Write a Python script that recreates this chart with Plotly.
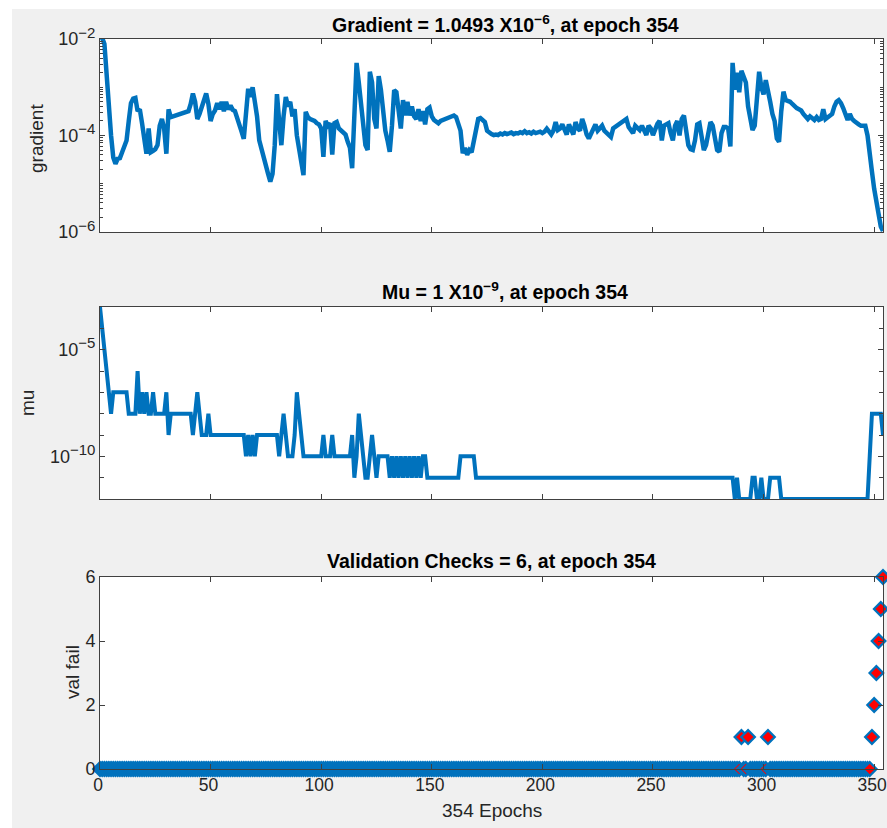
import plotly.graph_objects as go
from plotly.subplots import make_subplots

epochs = list(range(355))

gradient = [
    1.1e-2, 1.05e-2, 7.9e-3, 1.6e-3, 4.0e-4, 1.0e-4, 3.5e-5, 2.6e-5, 3.3e-5, 3.4e-5,
    4.5e-5, 6.0e-5, 7.9e-5, 2.0e-4, 4.7e-4, 5.8e-4, 6.0e-4, 3.2e-4, 3.5e-4, 1.8e-4,
    7.9e-5, 4.2e-5, 1.4e-4, 4.5e-5, 4.8e-5, 5.2e-5, 6.3e-5, 1.6e-4, 2.2e-4, 1.4e-4,
    4.2e-5, 3.5e-4, 2.4e-4, 2.5e-4, 2.6e-4, 2.7e-4, 2.8e-4, 2.9e-4, 3.0e-4, 3.2e-4,
    3.2e-4, 4.5e-4, 7.4e-4, 5.0e-4, 2.2e-4, 2.8e-4, 4.0e-4, 5.8e-4, 7.4e-4, 4.5e-4,
    2.0e-4, 2.8e-4, 3.3e-4, 4.7e-4, 3.5e-4, 5.0e-4, 3.2e-4, 5.0e-4, 3.5e-4, 4.2e-4,
    3.4e-4, 3.2e-4, 2.4e-4, 1.6e-4, 1.2e-4, 8.5e-5, 4.2e-4, 9.3e-4, 6.3e-4, 1.0e-3,
    5.0e-4, 2.5e-4, 7.9e-5, 5.0e-5, 3.2e-5, 2.0e-5, 1.6e-5, 1.1e-5, 1.6e-5, 6.3e-5,
    7.2e-4, 2.0e-4, 6.3e-5, 2.5e-4, 6.3e-4, 4.0e-4, 5.0e-4, 2.5e-4, 3.5e-4, 1.0e-4,
    5.4e-5, 3.2e-5, 1.5e-5, 3.1e-4, 2.4e-4, 2.2e-4, 2.1e-4, 2.0e-4, 1.8e-4, 1.7e-4,
    1.4e-4, 3.6e-5, 2.0e-4, 1.6e-4, 1.8e-4, 4.0e-5, 1.8e-4, 1.9e-4, 1.4e-4, 1.26e-4,
    1.2e-4, 1.05e-4, 7.4e-5, 5.6e-5, 2.1e-5, 3.2e-4, 3.2e-3, 1.26e-3, 5.0e-4, 1.6e-4,
    6.3e-5, 5.0e-5, 2.1e-3, 1.26e-3, 2.2e-4, 1.4e-4, 1.7e-3, 8.9e-4, 3.2e-4, 1.26e-4,
    7.9e-5, 4.6e-5, 1.6e-4, 8.7e-4, 7.9e-4, 3.2e-4, 1.4e-4, 5.4e-4, 2.6e-4, 5.0e-4,
    2.6e-4, 4.0e-4, 2.5e-4, 2.2e-4, 3.5e-4, 2.0e-4, 3.2e-4, 1.7e-4, 3.5e-4, 3.8e-4,
    2.5e-4, 2.1e-4, 1.9e-4, 1.8e-4, 2.0e-4, 2.1e-4, 2.2e-4, 2.3e-4, 2.4e-4, 2.5e-4,
    2.6e-4, 2.4e-4, 1.8e-4, 1.26e-4, 4.3e-5, 5.5e-5, 4.0e-5, 5.0e-5, 4.5e-5, 7.9e-5,
    1.4e-4, 2.2e-4, 2.3e-4, 2.0e-4, 1.9e-4, 1.26e-4, 1.12e-4, 1.07e-4, 1.02e-4, 1.05e-4,
    1.02e-4, 1.1e-4, 1.05e-4, 1.12e-4, 1.07e-4, 1.1e-4, 1.15e-4, 1.07e-4, 1.12e-4, 1.1e-4,
    1.17e-4, 1.12e-4, 1.23e-4, 1.12e-4, 1.17e-4, 1.1e-4, 1.2e-4, 1.12e-4, 1.15e-4, 1.2e-4,
    1.12e-4, 1.2e-4, 1.38e-4, 1.17e-4, 1.05e-4, 1.26e-4, 1.9e-4, 1.3e-4, 1.4e-4, 1.7e-4,
    1.26e-4, 1.05e-4, 1.7e-4, 1.4e-4, 1.05e-4, 1.9e-4, 1.4e-4, 1.26e-4, 2.2e-4, 1.6e-4,
    1.05e-4, 8.7e-5, 1.12e-4, 1.5e-4, 1.7e-4, 1.26e-4, 1.4e-4, 1.6e-4, 1.26e-4, 1.12e-4,
    1.0e-4, 9.3e-5, 1.4e-4, 1.5e-4, 1.7e-4, 1.8e-4, 1.9e-4, 2.0e-4, 2.2e-4, 1.5e-4,
    1.26e-4, 1.12e-4, 1.6e-4, 1.4e-4, 1.3e-4, 1.6e-4, 1.26e-4, 1.02e-4, 1.6e-4, 1.4e-4,
    1.02e-4, 1.45e-4, 1.74e-4, 2.0e-4, 7.9e-5, 1.6e-4, 1.7e-4, 1.8e-4, 1.12e-4, 7.9e-5,
    1.6e-4, 2.0e-4, 1.0e-4, 2.2e-4, 2.6e-4, 1.12e-4, 6.3e-5, 5.2e-5, 5.0e-5, 7.9e-5,
    1.7e-4, 1.8e-4, 1.0e-4, 5.0e-5, 6.3e-5, 1.26e-4, 1.9e-4, 1.6e-4, 8.9e-5, 5.0e-5,
    4.6e-5, 1.12e-4, 1.5e-4, 1.5e-4, 1.4e-4, 5.9e-5, 3.2e-3, 8.9e-4, 2.0e-3, 7.9e-4,
    2.2e-3, 1.6e-3, 1.26e-3, 4.0e-4, 2.0e-4, 1.3e-4, 1.6e-4, 5.0e-4, 2.1e-3, 1.0e-3,
    7.1e-4, 1.4e-3, 8.9e-4, 5.0e-4, 2.8e-4, 2.0e-4, 8.7e-5, 7.4e-5, 3.2e-4, 8.1e-4,
    5.4e-4, 5.2e-4, 5.0e-4, 4.5e-4, 4.0e-4, 3.7e-4, 3.5e-4, 3.3e-4, 2.8e-4, 2.5e-4,
    2.2e-4, 2.5e-4, 2.2e-4, 2.1e-4, 2.4e-4, 2.1e-4, 2.2e-4, 3.5e-4, 2.2e-4, 2.4e-4,
    2.5e-4, 2.8e-4, 4.0e-4, 5.0e-4, 5.4e-4, 4.7e-4, 3.7e-4, 2.8e-4, 2.1e-4, 2.8e-4,
    2.2e-4, 2.0e-4, 1.8e-4, 1.7e-4, 1.6e-4, 1.6e-4, 1.6e-4, 1.0e-4, 3.5e-5, 1.8e-5,
    7.9e-6, 4.0e-6, 2.2e-6, 1.3e-6, 1.0493e-6,
]

mu = [
    1e-3, 1e-4, 1e-5, 1e-6, 1e-7, 1e-8, 1e-7, 1e-7, 1e-7, 1e-7,            # 0
    1e-7, 1e-7, 1e-7, 1e-8, 1e-8, 1e-8, 1e-8, 1e-6, 1e-8, 1e-7,            # 10
    1e-8, 1e-7, 1e-8, 1e-8, 1e-7, 1e-8, 1e-8, 1e-8, 1e-8, 1e-8,            # 20
    1e-7, 1e-9, 1e-8, 1e-8, 1e-8, 1e-8, 1e-8, 1e-8, 1e-8, 1e-8,            # 30
    1e-8, 1e-8, 1e-9, 1e-8, 1e-7, 1e-8, 1e-9, 1e-9, 1e-9, 1e-8,            # 40
    1e-9, 1e-9, 1e-9, 1e-9, 1e-9, 1e-9, 1e-9, 1e-9, 1e-9, 1e-9,            # 50
    1e-9, 1e-9, 1e-9, 1e-9, 1e-9, 1e-9, 1e-10, 1e-9, 1e-10, 1e-9,          # 60
    1e-10, 1e-9, 1e-9, 1e-9, 1e-9, 1e-9, 1e-9, 1e-9, 1e-9, 1e-9,           # 70
    1e-9, 1e-10, 1e-9, 1e-8, 1e-9, 1e-10, 1e-10, 1e-10, 1e-9, 1e-7,        # 80
    1e-8, 1e-9, 1e-10, 1e-10, 1e-10, 1e-10, 1e-10, 1e-10, 1e-10, 1e-10,    # 90
    1e-10, 1e-9, 1e-10, 1e-10, 1e-10, 1e-9, 1e-10, 1e-10, 1e-10, 1e-10,    # 100
    1e-10, 1e-10, 1e-10, 1e-10, 1e-9, 1e-11, 1e-10, 1e-8, 1e-9, 1e-10,     # 110
    1e-11, 1e-11, 1e-10, 1e-9, 1e-10, 1e-11, 1e-10, 1e-10, 1e-10, 1e-10,   # 120
    1e-10, 1e-11, 1e-10, 1e-11, 1e-10, 1e-11, 1e-10, 1e-11, 1e-10, 1e-11,  # 130
    1e-10, 1e-11, 1e-10, 1e-11, 1e-10, 1e-11, 1e-10, 1e-10, 1e-11, 1e-11,  # 140
    1e-11, 1e-11, 1e-11, 1e-11, 1e-11, 1e-11, 1e-11, 1e-11, 1e-11, 1e-11,  # 150
    1e-11, 1e-11, 1e-11, 1e-10, 1e-10, 1e-10, 1e-10, 1e-10, 1e-10, 1e-10,  # 160
    1e-11, 1e-11, 1e-11, 1e-11, 1e-11, 1e-11, 1e-11, 1e-11, 1e-11, 1e-11,  # 170
    1e-11, 1e-11, 1e-11, 1e-11, 1e-11, 1e-11, 1e-11, 1e-11, 1e-11, 1e-11,  # 180
    1e-11, 1e-11, 1e-11, 1e-11, 1e-11, 1e-11, 1e-11, 1e-11, 1e-11, 1e-11,  # 190
    1e-11, 1e-11, 1e-11, 1e-11, 1e-11, 1e-11, 1e-11, 1e-11, 1e-11, 1e-11,  # 200
    1e-11, 1e-11, 1e-11, 1e-11, 1e-11, 1e-11, 1e-11, 1e-11, 1e-11, 1e-11,  # 210
    1e-11, 1e-11, 1e-11, 1e-11, 1e-11, 1e-11, 1e-11, 1e-11, 1e-11, 1e-11,  # 220
    1e-11, 1e-11, 1e-11, 1e-11, 1e-11, 1e-11, 1e-11, 1e-11, 1e-11, 1e-11,  # 230
    1e-11, 1e-11, 1e-11, 1e-11, 1e-11, 1e-11, 1e-11, 1e-11, 1e-11, 1e-11,  # 240
    1e-11, 1e-11, 1e-11, 1e-11, 1e-11, 1e-11, 1e-11, 1e-11, 1e-11, 1e-11,  # 250
    1e-11, 1e-11, 1e-11, 1e-11, 1e-11, 1e-11, 1e-11, 1e-11, 1e-11, 1e-11,  # 260
    1e-11, 1e-11, 1e-11, 1e-11, 1e-11, 1e-11, 1e-11, 1e-11, 1e-11, 1e-11,  # 270
    1e-11, 1e-11, 1e-11, 1e-11, 1e-11, 1e-11, 1e-11, 1e-12, 1e-11, 1e-12,  # 280
    1e-12, 1e-12, 1e-12, 1e-12, 1e-12, 1e-11, 1e-11, 1e-12, 1e-12, 1e-11,  # 290
    1e-12, 1e-12, 1e-12, 1e-11, 1e-11, 1e-11, 1e-11, 1e-11, 1e-12, 1e-12,  # 300
    1e-12, 1e-12, 1e-12, 1e-12, 1e-12, 1e-12, 1e-12, 1e-12, 1e-12, 1e-12,  # 310
    1e-12, 1e-12, 1e-12, 1e-12, 1e-12, 1e-12, 1e-12, 1e-12, 1e-12, 1e-12,  # 320
    1e-12, 1e-12, 1e-12, 1e-12, 1e-12, 1e-12, 1e-12, 1e-12, 1e-12, 1e-12,  # 330
    1e-12, 1e-12, 1e-12, 1e-12, 1e-12, 1e-12, 1e-12, 1e-12, 1e-10, 1e-8,   # 340
    1e-8, 1e-8, 1e-8, 1e-8, 1e-9,                                          # 350
]

val_fail = [
    0, 0, 0, 0, 0, 0, 0, 0, 0, 0, 0, 0, 0, 0, 0, 0, 0, 0, 0, 0,
    0, 0, 0, 0, 0, 0, 0, 0, 0, 0, 0, 0, 0, 0, 0, 0, 0, 0, 0, 0,
    0, 0, 0, 0, 0, 0, 0, 0, 0, 0, 0, 0, 0, 0, 0, 0, 0, 0, 0, 0,
    0, 0, 0, 0, 0, 0, 0, 0, 0, 0, 0, 0, 0, 0, 0, 0, 0, 0, 0, 0,
    0, 0, 0, 0, 0, 0, 0, 0, 0, 0, 0, 0, 0, 0, 0, 0, 0, 0, 0, 0,
    0, 0, 0, 0, 0, 0, 0, 0, 0, 0, 0, 0, 0, 0, 0, 0, 0, 0, 0, 0,
    0, 0, 0, 0, 0, 0, 0, 0, 0, 0, 0, 0, 0, 0, 0, 0, 0, 0, 0, 0,
    0, 0, 0, 0, 0, 0, 0, 0, 0, 0, 0, 0, 0, 0, 0, 0, 0, 0, 0, 0,
    0, 0, 0, 0, 0, 0, 0, 0, 0, 0, 0, 0, 0, 0, 0, 0, 0, 0, 0, 0,
    0, 0, 0, 0, 0, 0, 0, 0, 0, 0, 0, 0, 0, 0, 0, 0, 0, 0, 0, 0,
    0, 0, 0, 0, 0, 0, 0, 0, 0, 0, 0, 0, 0, 0, 0, 0, 0, 0, 0, 0,
    0, 0, 0, 0, 0, 0, 0, 0, 0, 0, 0, 0, 0, 0, 0, 0, 0, 0, 0, 0,
    0, 0, 0, 0, 0, 0, 0, 0, 0, 0, 0, 0, 0, 0, 0, 0, 0, 0, 0, 0,
    0, 0, 0, 0, 0, 0, 0, 0, 0, 0, 0, 0, 0, 0, 0, 0, 0, 0, 0, 0,
    0, 0, 0, 0, 0, 0, 0, 0, 0, 0, 1, 0, 0, 1, 0, 0, 0, 0, 0, 0,
    0, 0, 1, 0, 0, 0, 0, 0, 0, 0, 0, 0, 0, 0, 0, 0, 0, 0, 0, 0,
    0, 0, 0, 0, 0, 0, 0, 0, 0, 0, 0, 0, 0, 0, 0, 0, 0, 0, 0, 0,
    0, 0, 0, 0, 0, 0, 0, 0, 0, 1, 2, 3, 4, 5, 6,
]

assert len(gradient) == len(epochs) == len(mu) == len(val_fail), (
    len(gradient), len(mu), len(val_fail))

x_ticks = [0, 50, 100, 150, 200, 250, 300, 350]

W, H = 887, 828
BLUE = "#0072BD"
AX = "#404040"
TXT = "#262626"
FONT = "Liberation Sans, Arial, Helvetica, sans-serif"

def px_x(x):
    return x / W

def px_y(y):
    return 1 - y / H

def pow_label(exp):
    return f"10<sup><span style='font-size:15px'>−{exp}</span></sup>"

fig = make_subplots(rows=3, cols=1)

fig.add_trace(go.Scatter(x=epochs, y=gradient, mode="lines",
                         line=dict(color=BLUE, width=4.5), showlegend=False),
              row=1, col=1)
fig.add_trace(go.Scatter(x=epochs, y=mu, mode="lines",
                         line=dict(color=BLUE, width=4), showlegend=False),
              row=2, col=1)
fig.add_trace(go.Scatter(x=epochs, y=val_fail, mode="markers", cliponaxis=False,
                         marker=dict(symbol="diamond", size=10.5, color="#FF0000",
                                     line=dict(color=BLUE, width=2.2)),
                         showlegend=False),
              row=3, col=1)

xdom = [px_x(100), px_x(883)]
ydoms = [[px_y(232), px_y(39)], [px_y(499), px_y(307)], [px_y(769), px_y(577)]]

tick_font = dict(family=FONT, size=18, color=TXT)
x_tick_font = dict(family=FONT, size=17.5, color=TXT)
common_x = dict(range=[0, 354], showline=True, linecolor=AX, linewidth=1,
                mirror="ticks", ticks="inside", ticklen=5, tickcolor=AX,
                tickvals=x_ticks, showgrid=False, zeroline=False, domain=xdom,
                tickfont=x_tick_font, ticklabeloverflow="allow",
                ticklabelshift=-2, automargin=False)
for i in range(3):
    key = "xaxis" if i == 0 else f"xaxis{i+1}"
    fig.layout[key].update(common_x)
    fig.layout[key].update(showticklabels=(i == 2))
    ykey = "yaxis" if i == 0 else f"yaxis{i+1}"
    fig.layout[ykey].update(domain=ydoms[i], showline=True, linecolor=AX,
                            linewidth=1, mirror="ticks", ticks="inside",
                            ticklen=5, tickcolor=AX, showgrid=False,
                            zeroline=False, tickfont=tick_font,
                            ticklabeloverflow="allow", automargin=False)

grad_minor = [k * 10.0 ** p for p in range(-6, -2) for k in range(2, 10)] + [1e-5, 1e-3]
fig.layout.yaxis.update(
    type="log", range=[-6, -2],
    tickvals=[1e-6, 1e-4, 1e-2],
    ticktext=[pow_label(6), pow_label(4), pow_label(2)],
    minor=dict(ticks="inside", ticklen=3, tickcolor=AX, tickvals=grad_minor,
               showgrid=False),
)
fig.layout.yaxis2.update(
    type="log", range=[-12, -3],
    tickvals=[1e-10, 1e-5],
    ticktext=[pow_label(10), pow_label(5)],
    minor=dict(ticks="inside", ticklen=4, tickcolor=AX,
               tickvals=[10.0 ** p for p in range(-12, -2)], showgrid=False),
)
fig.layout.yaxis3.update(range=[0, 6], tickvals=[0, 2, 4, 6])

title_font = dict(family=FONT, size=19.5, color="#000000")
label_font = dict(family=FONT, size=19, color=TXT)
annotations = [
    dict(text="<b>Gradient = 1.0493 X10<sup>−6</sup>, at epoch 354</b>",
         x=px_x(505), y=px_y(24), font=title_font),
    dict(text="<b>Mu = 1 X10<sup>−9</sup>, at epoch 354</b>",
         x=px_x(505), y=px_y(291), font=title_font),
    dict(text="<b>Validation Checks = 6, at epoch 354</b>",
         x=px_x(491), y=px_y(561), font=title_font),
    dict(text="gradient", x=px_x(37), y=px_y(139), textangle=-90, font=label_font),
    dict(text="mu", x=px_x(28), y=px_y(403), textangle=-90, font=label_font),
    dict(text="val fail", x=px_x(72), y=px_y(672), textangle=-90, font=label_font),
    dict(text="354 Epochs", x=px_x(492), y=px_y(810), font=label_font),
]
for a in annotations:
    a.update(xref="paper", yref="paper", showarrow=False,
             xanchor="center", yanchor="middle")

fig.update_layout(
    width=W, height=H, autosize=False,
    margin=dict(l=0, r=0, t=0, b=0, autoexpand=False),
    paper_bgcolor="#F0F0F0", plot_bgcolor="#FFFFFF",
    annotations=annotations,
    shapes=[
        dict(type="rect", xref="paper", yref="paper", x0=0, x1=px_x(12),
             y0=0, y1=1, fillcolor="#FFFFFF", line=dict(width=0), layer="below"),
        dict(type="rect", xref="paper", yref="paper", x0=0, x1=1,
             y0=px_y(9), y1=1, fillcolor="#FFFFFF", line=dict(width=0), layer="below"),
    ],
    font=dict(family=FONT),
)

fig.write_html("out.html")
